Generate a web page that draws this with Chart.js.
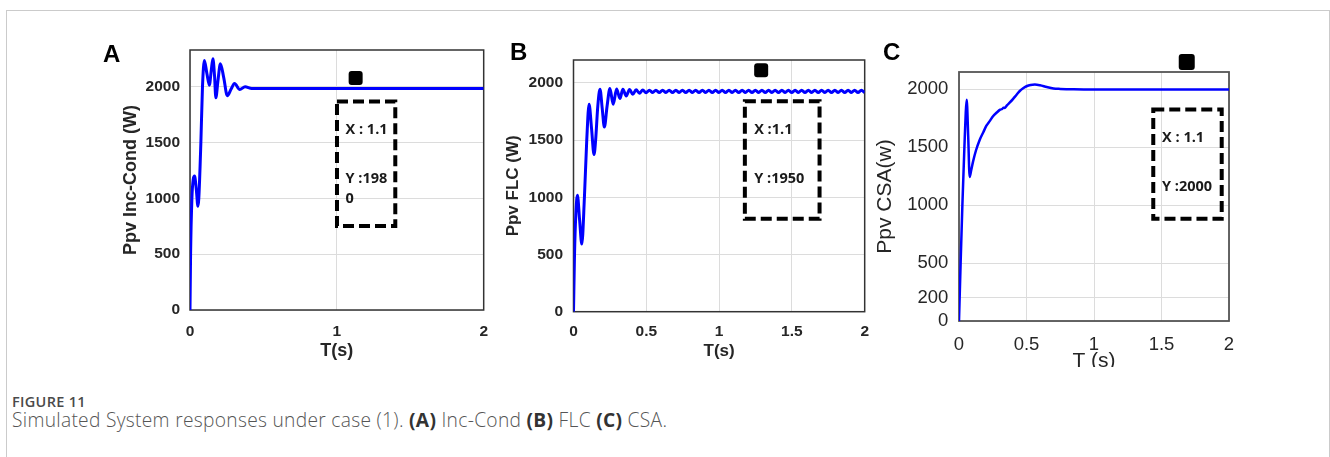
<!DOCTYPE html>
<html>
<head>
<meta charset="utf-8">
<script src="https://cdn.jsdelivr.net/npm/chart.js@4.4.1/dist/chart.umd.min.js"></script>
<style>
  html, body { margin: 0; padding: 0; background: #fff; }
  #page { position: relative; width: 1330px; height: 457px; overflow: hidden; background: #fff; }
  #frame { position: absolute; left: 6px; top: 10px; width: 1324px; height: 470px;
    border: 1px solid #cbcbcb; box-sizing: border-box; }
  .panel { position: absolute; }
  .letter { position: absolute; font: bold 24px "Liberation Sans", Arial, sans-serif;
    line-height: 24px; color: #000; }
  #figno { position: absolute; left: 12px; top: 392px; font: 600 14.5px "Open Sans", sans-serif;
    color: #4a4a4a; letter-spacing: 0.3px; }
  #caption { position: absolute; left: 12px; top: 406px; font: 300 19.2px "Open Sans", sans-serif;
    color: #555; white-space: nowrap; letter-spacing: 0.3px; }
  #caption b { font-weight: 700; color: #333; }
  #wrapC { position: absolute; left: 860px; top: 30px; width: 390px; height: 337px; overflow: hidden; }
</style>
</head>
<body>
<div id="page">
  <div id="frame"></div>
  <canvas id="chartA" class="panel" width="400" height="350" style="left:100px;top:30px"></canvas>
  <canvas id="chartB" class="panel" width="400" height="350" style="left:480px;top:30px"></canvas>
  <div id="wrapC"><canvas id="chartC" class="panel" width="390" height="350" style="left:0;top:0"></canvas></div>
  <div class="letter" style="left:103px;top:42px">A</div>
  <div class="letter" style="left:510px;top:40px">B</div>
  <div class="letter" style="left:883px;top:40px">C</div>
  <div id="figno">FIGURE 11</div>
  <div id="caption">Simulated System responses under case (1). <b>(A)</b> Inc-Cond <b>(B)</b> FLC <b>(C)</b> CSA.</div>
</div>
<script>
// Panel A: Inc-Cond
const timeA = [0, 0.004, 0.013, 0.022, 0.031, 0.043, 0.054, 0.060, 0.074, 0.085, 0.098, 0.115, 0.132,
  0.145, 0.156, 0.167, 0.176, 0.190, 0.207, 0.230, 0.254, 0.280, 0.303, 0.339, 0.375, 0.420, 0.600,
  1.000, 1.500, 2.000];
const powerA = [0, 500, 1000, 1170, 1200, 1080, 930, 1000, 1500, 2000, 2237, 2120, 2015,
  2150, 2252, 2100, 1902, 2050, 2207, 2080, 1920, 1980, 2030, 1976, 2000, 1985, 1985,
  1985, 1985, 1985];

// Panel B: FLC
const timeB = [0, 0.007, 0.016, 0.027, 0.042, 0.057, 0.075, 0.091, 0.107, 0.124, 0.141, 0.152, 0.167,
  0.182, 0.197, 0.212, 0.231, 0.250, 0.273, 0.296, 0.319, 0.339, 0.362, 0.385, 0.407, 0.430, 0.453,
  0.476, 0.498, 0.521, 0.544, 0.566, 0.589, 0.612, 0.635, 0.657, 0.680, 0.703, 0.726, 0.748, 0.771,
  0.794, 0.817, 0.839, 0.862, 0.885, 0.908, 0.930, 0.953, 0.976, 0.999, 1.021, 1.044, 1.067, 1.090,
  1.112, 1.135, 1.158, 1.181, 1.203, 1.226, 1.249, 1.272, 1.294, 1.317, 1.340, 1.363, 1.385, 1.408,
  1.431, 1.454, 1.476, 1.499, 1.522, 1.545, 1.567, 1.590, 1.613, 1.636, 1.658, 1.681, 1.704, 1.727,
  1.749, 1.772, 1.795, 1.818, 1.840, 1.863, 1.886, 1.909, 1.931, 1.954, 1.977, 2.000];
const powerB = [0, 500, 850, 1018, 800, 591, 1000, 1500, 1813, 1600, 1374, 1500, 1800,
  1944, 1780, 1614, 1800, 1950, 1813, 1947, 1863, 1945, 1886, 1943, 1900, 1940, 1909,
  1938, 1914, 1936, 1916, 1936, 1916, 1936, 1916, 1936, 1916, 1936, 1916, 1936, 1916,
  1936, 1916, 1936, 1916, 1936, 1916, 1936, 1916, 1936, 1916, 1936, 1916, 1936, 1916,
  1936, 1916, 1936, 1916, 1936, 1916, 1936, 1916, 1936, 1916, 1936, 1916, 1936, 1916,
  1936, 1916, 1936, 1916, 1936, 1916, 1936, 1916, 1936, 1916, 1936, 1916, 1936, 1916,
  1936, 1916, 1936, 1916, 1936, 1916, 1936, 1916, 1936, 1916, 1936, 1916];

// Panel C: CSA
const timeC = [0, 0.012, 0.025, 0.040, 0.050, 0.057, 0.068, 0.079, 0.090, 0.104, 0.125, 0.153, 0.180,
  0.203, 0.230, 0.252, 0.280, 0.305, 0.320, 0.330, 0.340, 0.355, 0.375, 0.401, 0.425, 0.450, 0.475,
  0.500, 0.530, 0.562, 0.600, 0.650, 0.700, 0.750, 0.850, 1.000, 1.500, 2.000];
const powerC = [0, 500, 1000, 1500, 1800, 1910, 1600, 1244, 1300, 1376, 1470, 1563, 1630,
  1686, 1730, 1768, 1800, 1825, 1830, 1842, 1840, 1862, 1885, 1918, 1952, 1986, 2010,
  2027, 2038, 2041, 2035, 2020, 2008, 2004, 2000, 1998, 1998, 1998];

const xTicksA = [0, 1, 2];
const xTicksBC = [0, 0.5, 1, 1.5, 2];
const yTicksAB = [0, 500, 1000, 1500, 2000];
const yTicksC = [0, 200, 500, 1000, 1500, 2000];

const tipTextA = ['X : 1.1', 'Y :198', '0'];
const tipTextB = ['X :1.1', 'Y :1950'];
const tipTextC = ['X : 1.1', 'Y :2000'];

Chart.defaults.font.family = '"Liberation Sans", Arial, sans-serif';

// axes box under the line, datatip marker + dashed box on top
const matlabAxes = {
  id: 'matlabAxes',
  beforeDatasetsDraw(chart, args, opts) {
    const {ctx, chartArea: a} = chart;
    ctx.save();
    ctx.strokeStyle = opts.boxColor;
    ctx.lineWidth = opts.boxWidth;
    ctx.strokeRect(a.left, a.top, a.right - a.left, a.bottom - a.top);
    ctx.restore();
  },
  afterDatasetsDraw(chart, args, opts) {
    const {ctx, scales: {x, y}} = chart;
    const tip = opts.tip;
    ctx.save();
    const mx = x.getPixelForValue(tip.marker[0]);
    const my = y.getPixelForValue(tip.marker[1]);
    const s = tip.markerSize;
    ctx.fillStyle = '#000';
    ctx.beginPath();
    ctx.roundRect(mx - s / 2, my - s / 2, s, s, 3);
    ctx.fill();
    const x0 = x.getPixelForValue(tip.box[0]);
    const x1 = x.getPixelForValue(tip.box[1]);
    const y0 = y.getPixelForValue(tip.box[3]);
    const y1 = y.getPixelForValue(tip.box[2]);
    ctx.strokeStyle = '#000';
    ctx.lineWidth = 4;
    ctx.setLineDash([11, 5]);
    ctx.strokeRect(x0, y0, x1 - x0, y1 - y0);
    ctx.setLineDash([]);
    ctx.fillStyle = '#1a1a1a';
    ctx.font = 'bold 14.5px "Open Sans", sans-serif';
    ctx.textAlign = 'left';
    ctx.textBaseline = 'middle';
    tip.text.forEach((t, i) => {
      ctx.fillText(t, x.getPixelForValue(tip.textX), y.getPixelForValue(tip.textY[i]));
    });
    ctx.restore();
  },
};

function makePanel(id, p) {
  const data = p.time.map((t, i) => ({x: t, y: p.power[i]}));
  const labelOf = (v) => String(v);
  return new Chart(document.getElementById(id), {
    type: 'line',
    data: {
      datasets: [{
        data,
        borderColor: '#0000ff',
        borderWidth: p.lineWidth,
        pointRadius: 0,
        fill: false,
        cubicInterpolationMode: 'monotone',
      }],
    },
    options: {
      responsive: false,
      animation: false,
      devicePixelRatio: 1,
      layout: {padding: p.pad},
      plugins: {
        legend: {display: false},
        tooltip: {enabled: false},
        matlabAxes: {boxColor: p.boxColor, boxWidth: p.boxWidth, tip: p.tip},
      },
      scales: {
        x: {
          type: 'linear',
          min: 0,
          max: 2,
          afterBuildTicks: (s) => { s.ticks = p.xTicks.map((v) => ({value: v})); },
          afterFit: (s) => { s.height = p.xHeight; },
          grid: {color: '#dcdcdc', drawTicks: false},
          border: {display: false},
          ticks: {font: p.tickFont, color: '#262626', padding: p.xTickPad, maxRotation: 0,
            autoSkip: false, callback: labelOf},
          title: {display: true, text: p.xTitle, font: p.xTitleFont, color: '#262626',
            padding: {top: 0, bottom: p.xTitlePad}},
        },
        y: {
          type: 'linear',
          min: 0,
          max: p.yMax,
          afterBuildTicks: (s) => { s.ticks = p.yTicks.map((v) => ({value: v})); },
          afterFit: (s) => { s.width = p.yWidth; },
          grid: {color: '#dcdcdc', drawTicks: false},
          border: {display: false},
          ticks: {font: p.tickFont, color: '#262626', padding: p.yTickPad, autoSkip: false,
            callback: labelOf},
          title: {display: true, text: p.yTitle, font: p.yTitleFont, color: '#262626',
            padding: {top: p.yTitlePad, bottom: 0}},
        },
      },
    },
    plugins: [matlabAxes],
  });
}

makePanel('chartA', {
  time: timeA, power: powerA, lineWidth: 3, yMax: 2330,
  xTicks: xTicksA, yTicks: yTicksAB,
  pad: {left: 0, top: 20, right: 11, bottom: 0},
  xHeight: 70, yWidth: 90, xTickPad: 12, yTickPad: 10,
  tickFont: {size: 15.5, weight: 'bold'},
  xTitle: 'T(s)', xTitleFont: {size: 18, weight: 'bold'}, xTitlePad: 18,
  yTitle: 'Ppv Inc-Cond (W)', yTitleFont: {size: 18, weight: 'bold'}, yTitlePad: 20,
  boxColor: '#333', boxWidth: 1.5,
  tip: {marker: [1.128, 2078], markerSize: 14, box: [1.001, 1.398, 753, 1868],
    text: tipTextA, textX: 1.059, textY: [1614, 1175, 993]},
});

makePanel('chartB', {
  time: timeB, power: powerB, lineWidth: 3, yMax: 2200,
  xTicks: xTicksBC, yTicks: yTicksAB,
  pad: {left: 0, top: 30, right: 14, bottom: 0},
  xHeight: 68.3, yWidth: 93.5, xTickPad: 11, yTickPad: 10.5,
  tickFont: {size: 15.5, weight: 'bold'},
  xTitle: 'T(s)', xTitleFont: {size: 17, weight: 'bold'}, xTitlePad: 18,
  yTitle: 'Ppv FLC (W)', yTitleFont: {size: 17, weight: 'bold'}, yTitlePad: 23,
  boxColor: '#333', boxWidth: 1.5,
  tip: {marker: [1.289, 2110], markerSize: 14, box: [1.177, 1.690, 812, 1839],
    text: tipTextB, textX: 1.241, textY: [1591, 1159]},
});

makePanel('chartC', {
  time: timeC, power: powerC, lineWidth: 2.5, yMax: 2150,
  xTicks: xTicksBC, yTicks: yTicksC,
  pad: {left: 0, top: 42, right: 21, bottom: 0},
  xHeight: 59, yWidth: 99, xTickPad: 13, yTickPad: 10.7,
  tickFont: {size: 18.5},
  xTitle: 'T (s)', xTitleFont: {size: 21}, xTitlePad: 6,
  yTitle: 'Ppv CSA(w)', yTitleFont: {size: 21}, yTitlePad: 13,
  boxColor: '#555', boxWidth: 1.8,
  tip: {marker: [1.687, 2236], markerSize: 16, box: [1.439, 1.946, 883, 1827],
    text: tipTextC, textX: 1.504, textY: [1582, 1154]},
});
</script>
</body>
</html>
